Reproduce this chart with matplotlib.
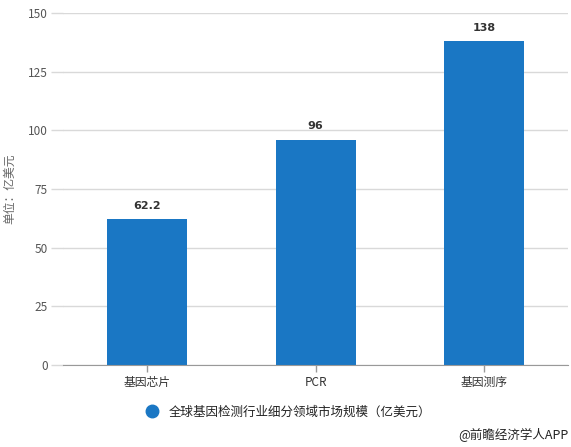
import matplotlib
matplotlib.use("Agg")
import matplotlib.pyplot as plt
from matplotlib.lines import Line2D

plt.rcParams['font.family'] = ['Noto Sans CJK SC', 'DejaVu Sans']

categories = ['基因芯片', 'PCR', '基因测序']
values = [62.2, 96, 138]
value_labels = ['62.2', '96', '138']
yticks = [0, 25, 50, 75, 100, 125, 150]
series_name = '全球基因检测行业细分领域市场规模（亿美元）'
y_label = '单位：亿美元'
credit = '@前瞻经济学人APP'

bar_color = '#1A77C4'

fig = plt.figure(figsize=(5.71, 4.47), dpi=100)
ax = fig.add_axes([0.110, 0.1834, 0.8856, 0.7876])

x = list(range(len(categories)))
ax.bar(x, values, width=0.475, color=bar_color, zorder=3)
for xi, v, lab in zip(x, values, value_labels):
    ax.annotate(lab, (xi, v), xytext=(0, 6), textcoords='offset points',
                ha='center', va='bottom', fontsize=8, fontweight='bold',
                color='#333333', family=['DejaVu Sans'])

ax.set_xlim(-0.5, len(categories) - 0.5)
ax.set_ylim(0, 150)
ax.set_yticks(yticks)
ax.set_yticklabels([str(t) for t in yticks], fontsize=8.5, color='#555555')
ax.set_xticks(x)
ax.set_xticklabels(categories, fontsize=8.5, color='#333333')
ax.grid(axis='y', color='#d9d9d9', linewidth=1, zorder=0)
ax.tick_params(axis='y', length=9, color='#d9d9d9', width=1, pad=2)
ax.tick_params(axis='x', length=5, color='#999999', width=1, pad=3)
for s in ['top', 'right', 'left']:
    ax.spines[s].set_visible(False)
ax.spines['bottom'].set_color('#999999')
ax.spines['bottom'].set_zorder(4)

ax.set_ylabel(y_label, fontsize=8.5, color='#666666', labelpad=8)

handle = Line2D([], [], marker='o', linestyle='none', markersize=9,
                markerfacecolor=bar_color, markeredgecolor=bar_color)
fig.legend([handle], [series_name], loc='center', bbox_to_anchor=(0.5, 0.078),
           frameon=False, fontsize=9, handletextpad=0.3, labelcolor='#222222')

fig.text(0.995, 0.027, credit, ha='right', va='center', fontsize=9, color='#222222')

fig.savefig('out.png', dpi=100)
